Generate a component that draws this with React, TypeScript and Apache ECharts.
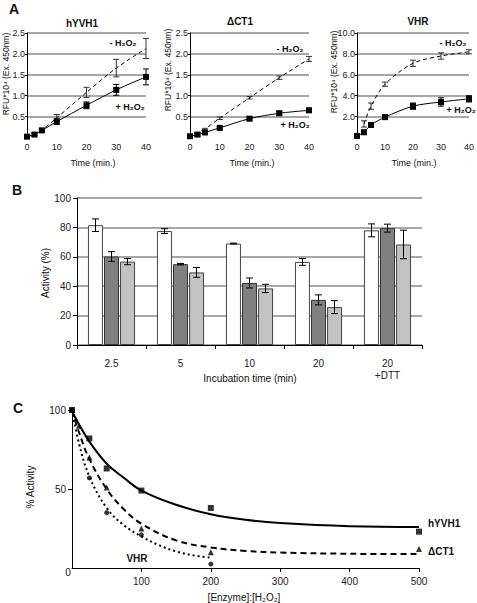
import React, { useEffect, useRef } from "react";
import * as echarts from "echarts";

const FONT = '"Liberation Sans", Arial, Helvetica, sans-serif';

// ---- Panel A data ----
const timeA = [0, 2.5, 5, 10, 20, 30, 40];
const hyvhMinus = [0.02, 0.08, 0.18, 0.47, 1.08, 1.66, 2.13];
const hyvhMinusErr = [0.02, 0.03, 0.04, 0.08, 0.12, 0.21, 0.24];
const hyvhPlus = [0.02, 0.07, 0.17, 0.38, 0.77, 1.14, 1.45];
const hyvhPlusErr = [0.02, 0.03, 0.04, 0.07, 0.08, 0.13, 0.19];
const ct1Minus = [0.03, 0.08, 0.2, 0.46, 0.95, 1.43, 1.88];
const ct1MinusErr = [0.01, 0.02, 0.02, 0.03, 0.03, 0.04, 0.06];
const ct1Plus = [0.03, 0.07, 0.12, 0.23, 0.45, 0.58, 0.65];
const ct1PlusErr = [0.03, 0.04, 0.04, 0.04, 0.04, 0.05, 0.05];
const vhrMinus = [null, 1.3, 3.0, 5.1, 7.1, 7.8, 8.2];
const vhrMinusErr = [0, 0.3, 0.3, 0.2, 0.3, 0.3, 0.2];
const vhrPlus = [0.15, 0.5, 1.2, 1.95, 3.0, 3.4, 3.7];
const vhrPlusErr = [0.2, 0.2, 0.2, 0.2, 0.3, 0.4, 0.3];
const aTitles = ["hYVH1", "ΔCT1", "VHR"];

// ---- Panel B data ----
const bCategories = ["2.5", "5", "10", "20", "20\n+DTT"];
const bWhite = [81.5, 77.5, 69, 56.5, 78];
const bWhiteErr = [4.3, 1.6, 0.3, 2.3, 4.4];
const bDark = [60.2, 55, 42.2, 30.7, 79.5];
const bDarkErr = [3.3, 0.5, 3.4, 3.4, 2.7];
const bLight = [56.7, 49.4, 38.5, 25.8, 68.4];
const bLightErr = [2.1, 3.3, 2.8, 4.4, 9.7];

// ---- Panel C data ----
const cHyvhPts = [[0, 100], [25, 82], [50, 63], [100, 49], [200, 38], [500, 23]];
const cCt1Pts = [[0, 100], [10, 90], [25, 70], [50, 51], [100, 25], [200, 10], [500, 12]];
const cVhrPts = [[0, 100], [25, 57], [50, 35], [100, 21], [200, 2.5]];
const cHyvhCurve = [[0, 99], [10, 91], [25, 80], [50, 66], [75, 57], [100, 49], [150, 40], [200, 34], [250, 30.5], [300, 28.5], [400, 26.5], [500, 26]];
const cCt1Curve = [[0, 100], [10, 86], [25, 69], [50, 50], [75, 37], [100, 28], [150, 17.5], [200, 13], [250, 10.8], [300, 9.8], [400, 9], [500, 8.8]];
const cVhrCurve = [[0, 100], [10, 79], [25, 58], [50, 38], [75, 27], [100, 20], [125, 14.5], [150, 10.5], [175, 8], [200, 6.5]];

function errorRender(capHalf: number, color: string, offset: number, width: number) {
  return (params: any, api: any) => {
    const x = api.value(0);
    const lo = api.value(1);
    const hi = api.value(2);
    const p1 = api.coord([x, hi]);
    const p2 = api.coord([x, lo]);
    const cx = p1[0] + offset;
    const style = { stroke: color, lineWidth: width };
    return {
      type: "group",
      children: [
        { type: "line", shape: { x1: cx, y1: p1[1], x2: cx, y2: p2[1] }, style },
        { type: "line", shape: { x1: cx - capHalf, y1: p1[1], x2: cx + capHalf, y2: p1[1] }, style },
        { type: "line", shape: { x1: cx - capHalf, y1: p2[1], x2: cx + capHalf, y2: p2[1] }, style },
      ],
    };
  };
}

function pairs(xs: number[], ys: (number | null)[]) {
  return xs.map((x, i) => [x, ys[i]]).filter((d) => d[1] !== null);
}
function errData(xs: number[], ys: (number | null)[], es: number[]) {
  const out: number[][] = [];
  xs.forEach((x, i) => {
    const y = ys[i];
    if (y === null) return;
    out.push([x, y - es[i], y + es[i]]);
  });
  return out;
}

const GRID = "#8a8a8a";
const TR = "rgba(0,0,0,0)";

function aXAxis(gi: number) {
  return {
    type: "value", gridIndex: gi, min: 0, max: 40, interval: 10,
    axisLine: { show: false }, axisTick: { show: false }, splitLine: { show: false },
    axisLabel: { fontSize: 9, color: "#222", fontFamily: FONT, margin: 5 },
  };
}
function aYAxis(gi: number, max: number, interval: number) {
  const n = Math.round(max / interval) + 1;
  const colors = [TR];
  for (let i = 1; i < n; i++) colors.push(GRID);
  return {
    type: "value", gridIndex: gi, min: 0, max, interval,
    axisLine: { show: true, lineStyle: { color: "#000", width: 1 } },
    axisTick: { show: true, length: 2, lineStyle: { color: "#000" } },
    splitLine: { show: true, lineStyle: { color: colors, width: 1.5 } },
    axisLabel: { showMinLabel: false, formatter: (v: number) => v.toFixed(1), fontSize: 9, color: "#222", fontFamily: FONT, margin: 2 },
  };
}

function aSeries(gi: number, minus: (number | null)[], minusErr: number[], plus: number[], plusErr: number[]) {
  return [
    {
      type: "line", xAxisIndex: gi, yAxisIndex: gi, data: pairs(timeA, minus), showSymbol: false, smooth: 0.3,
      lineStyle: { color: "#000", width: 1, type: [4, 3] }, z: 3,
    },
    {
      type: "custom", xAxisIndex: gi, yAxisIndex: gi, data: errData(timeA, minus, minusErr),
      encode: { x: 0, y: [1, 2] }, renderItem: errorRender(3, "#333", 0, 1), z: 4,
    },
    {
      type: "line", xAxisIndex: gi, yAxisIndex: gi, data: pairs(timeA, plus), smooth: 0.3,
      symbol: "rect", symbolSize: 6, itemStyle: { color: "#000" },
      lineStyle: { color: "#000", width: 1 }, z: 5,
    },
    {
      type: "custom", xAxisIndex: gi, yAxisIndex: gi, data: errData(timeA, plus, plusErr),
      encode: { x: 0, y: [1, 2] }, renderItem: errorRender(3, "#000", 0, 1), z: 6,
    },
  ];
}

function txt(x: number, y: number, text: string, size: number, bold = false, rot = 0, align = "center") {
  return {
    type: "text", x, y, rotation: rot, z: 100,
    style: { text, fontSize: size, fontWeight: bold ? "bold" : "normal", fontFamily: FONT, fill: "#111", align, verticalAlign: "middle" },
  };
}

export default function App() {
  const ref = useRef<HTMLDivElement>(null);
  useEffect(() => {
    if (!ref.current) return;
    const chart = echarts.init(ref.current, undefined, { renderer: "svg" });

    const bErr = (vals: number[], errs: number[]) => vals.map((v, i) => [i, v - errs[i], v + errs[i]]);

    const option: any = {
      animation: false,
      backgroundColor: "#fff",
      textStyle: { fontFamily: FONT },
      grid: [
        { left: 27, top: 33, width: 119, height: 104.5 },
        { left: 190, top: 33, width: 119, height: 104.5 },
        { left: 357, top: 33, width: 115, height: 104.5 },
        { left: 77, top: 198, width: 345, height: 147 },
        { left: 72, top: 410, width: 347, height: 158 },
      ],
      xAxis: [
        aXAxis(0), aXAxis(1), aXAxis(2),
        {
          type: "category", gridIndex: 3, data: bCategories,
          axisLine: { show: true, lineStyle: { color: "#000", width: 1 } },
          axisTick: { show: true, length: 4, alignWithLabel: false, lineStyle: { color: "#000" } },
          axisLabel: { fontSize: 10, color: "#222", fontFamily: FONT, margin: 12, lineHeight: 12 },
        },
        {
          type: "value", gridIndex: 4, min: 0, max: 500, interval: 100,
          axisLine: { show: true, lineStyle: { color: "#000", width: 1 } },
          axisTick: { show: true, length: 4, lineStyle: { color: "#000" } },
          splitLine: { show: false },
          axisLabel: { showMinLabel: false, fontSize: 10, color: "#222", fontFamily: FONT, margin: 8 },
        },
      ],
      yAxis: [
        aYAxis(0, 2.5, 0.5), aYAxis(1, 2.5, 0.5), aYAxis(2, 10, 2),
        {
          type: "value", gridIndex: 3, min: 0, max: 100, interval: 20,
          axisLine: { show: true, lineStyle: { color: "#000", width: 1 } },
          axisTick: { show: true, length: 4, lineStyle: { color: "#000" } },
          splitLine: { show: true, lineStyle: { color: GRID, width: 1.5 } },
          axisLabel: { fontSize: 10, color: "#222", fontFamily: FONT, margin: 6 },
        },
        {
          type: "value", gridIndex: 4, min: 0, max: 100, interval: 50,
          axisLine: { show: true, lineStyle: { color: "#000", width: 1 } },
          axisTick: { show: true, length: 4, lineStyle: { color: "#000" } },
          splitLine: { show: false },
          axisLabel: { showMinLabel: false, fontSize: 10, color: "#222", fontFamily: FONT, margin: 6 },
        },
      ],
      series: [
        ...aSeries(0, hyvhMinus, hyvhMinusErr, hyvhPlus, hyvhPlusErr),
        ...aSeries(1, ct1Minus, ct1MinusErr, ct1Plus, ct1PlusErr),
        ...aSeries(2, vhrMinus, vhrMinusErr, vhrPlus, vhrPlusErr),
        // Panel B bars
        {
          type: "bar", xAxisIndex: 3, yAxisIndex: 3, data: bWhite, barWidth: 15, barGap: "7%",
          itemStyle: { color: "#ffffff", borderColor: "#444", borderWidth: 1 },
        },
        {
          type: "bar", xAxisIndex: 3, yAxisIndex: 3, data: bDark, barWidth: 15, barGap: "7%",
          itemStyle: { color: "#808080", borderColor: "#333", borderWidth: 1 },
        },
        {
          type: "bar", xAxisIndex: 3, yAxisIndex: 3, data: bLight, barWidth: 15, barGap: "7%",
          itemStyle: { color: "#c2c2c2", borderColor: "#444", borderWidth: 1 },
        },
        {
          type: "custom", xAxisIndex: 3, yAxisIndex: 3, data: bErr(bWhite, bWhiteErr),
          encode: { x: 0, y: [1, 2] }, renderItem: errorRender(3.5, "#000", -16, 1), z: 10,
        },
        {
          type: "custom", xAxisIndex: 3, yAxisIndex: 3, data: bErr(bDark, bDarkErr),
          encode: { x: 0, y: [1, 2] }, renderItem: errorRender(3.5, "#000", 0, 1), z: 10,
        },
        {
          type: "custom", xAxisIndex: 3, yAxisIndex: 3, data: bErr(bLight, bLightErr),
          encode: { x: 0, y: [1, 2] }, renderItem: errorRender(3.5, "#000", 16, 1), z: 10,
        },
        // Panel C
        {
          type: "line", xAxisIndex: 4, yAxisIndex: 4, data: cHyvhCurve, showSymbol: false, smooth: 0.4,
          lineStyle: { color: "#000", width: 2 },
        },
        {
          type: "line", xAxisIndex: 4, yAxisIndex: 4, data: cCt1Curve, showSymbol: false, smooth: 0.4,
          lineStyle: { color: "#000", width: 2, type: [6, 4] },
        },
        {
          type: "line", xAxisIndex: 4, yAxisIndex: 4, data: cVhrCurve, showSymbol: false, smooth: 0.4,
          lineStyle: { color: "#000", width: 2, type: [2, 3] },
        },
        {
          type: "scatter", xAxisIndex: 4, yAxisIndex: 4, data: cHyvhPts, symbol: "rect", symbolSize: 6,
          itemStyle: { color: "#000" }, z: 5,
        },
        {
          type: "scatter", xAxisIndex: 4, yAxisIndex: 4, data: cCt1Pts, symbol: "triangle", symbolSize: 6,
          itemStyle: { color: "#000" }, z: 5,
        },
        {
          type: "scatter", xAxisIndex: 4, yAxisIndex: 4, data: cVhrPts, symbol: "circle", symbolSize: 5,
          itemStyle: { color: "#000" }, z: 5,
        },
      ],
      graphic: [
        txt(14, 9, "A", 14, true),
        txt(17, 190, "B", 14, true),
        txt(18, 408, "C", 14, true),
        txt(82, 23, aTitles[0], 10, true),
        txt(240, 21, aTitles[1], 10, true),
        txt(418, 21, aTitles[2], 10, true),
        txt(6, 74, "RFU*10⁴ (Ex. 450nm)", 8.5, false, Math.PI / 2),
        txt(168, 70, "RFU*10⁴ (Ex. 450nm)", 8.5, false, Math.PI / 2),
        txt(334, 72, "RFU*10⁴ (Ex. 450nm)", 8.5, false, Math.PI / 2),
        txt(93, 163, "Time (min.)", 9),
        txt(252, 163, "Time (min.)", 9),
        txt(414, 163, "Time (min.)", 9),
        txt(123, 43, "- H₂O₂", 9, true),
        txt(130, 107, "+ H₂O₂", 9, true),
        txt(290, 49, "- H₂O₂", 9, true),
        txt(295, 125, "+ H₂O₂", 9, true),
        txt(453, 43, "- H₂O₂", 9, true),
        txt(461, 110, "+ H₂O₂", 9, true),
        txt(45, 273, "Activity (%)", 10, false, Math.PI / 2),
        txt(250, 378, "Incubation time (min)", 10),
        txt(30, 487, "% Activity", 10, false, Math.PI / 2),
        txt(68, 572, "0", 10),
        txt(244, 597, "[Enzyme]:[H₂O₂]", 10),
        txt(428, 523, "hYVH1", 10, true, 0, "left"),
        txt(428, 551, "ΔCT1", 10, true, 0, "left"),
        txt(137, 558, "VHR", 10, true),
      ],
    };
    chart.setOption(option);
    return () => chart.dispose();
  }, []);
  return (
    <div
      ref={ref}
      style={{ position: "absolute", left: 0, top: 0, width: 477, height: 603, background: "#fff" }}
    />
  );
}
